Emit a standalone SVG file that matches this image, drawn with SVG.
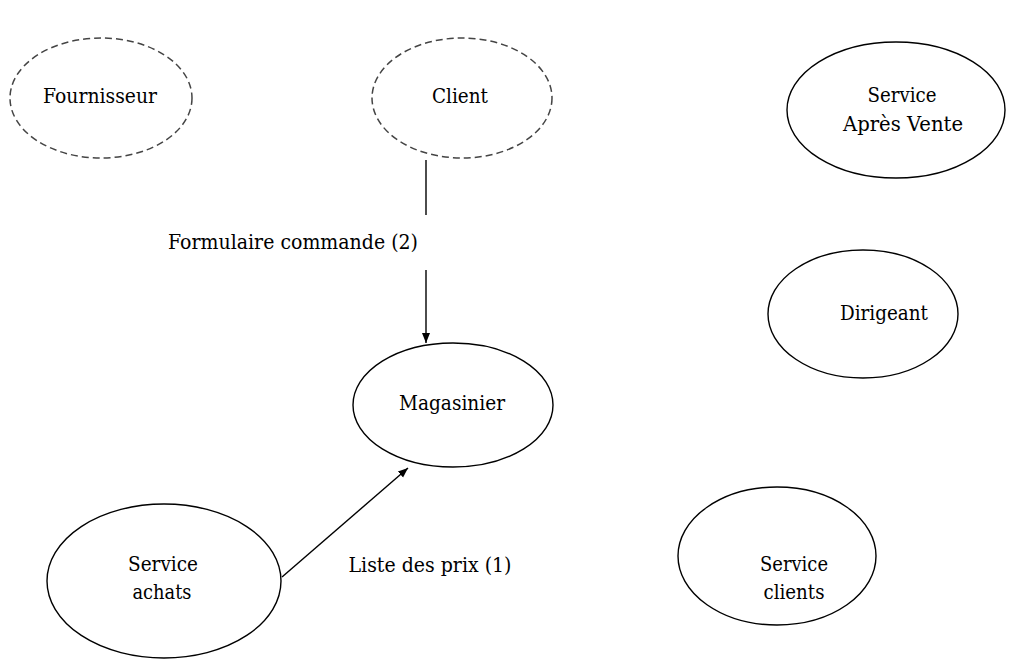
<svg xmlns="http://www.w3.org/2000/svg" width="1009" height="660" viewBox="0 0 1009 660">
<defs>
<style>
.n{fill:#fff;stroke:#000;stroke-width:1.4}
.d{fill:#fff;stroke:#444;stroke-width:1.5;stroke-dasharray:7 4}
text{font-family:"DejaVu Serif","Liberation Serif",serif;font-size:21px;fill:#000;text-anchor:middle}
.c{stroke:#000;stroke-width:1.4;fill:none}
</style>
<marker id="ah" markerWidth="10" markerHeight="10" refX="10" refY="5" orient="auto" markerUnits="userSpaceOnUse">
<path d="M0,1 L10,5 L0,9 Z" fill="#000"/>
</marker>
</defs>
<rect width="1009" height="660" fill="#fff"/>
<g id="fournisseur"><ellipse class="d" cx="101" cy="98" rx="91" ry="60"/><text x="100" y="103" textLength="114" lengthAdjust="spacingAndGlyphs">Fournisseur</text></g>
<g id="client"><ellipse class="d" cx="462" cy="98" rx="90" ry="60"/><text x="460" y="103" textLength="56" lengthAdjust="spacingAndGlyphs">Client</text></g>
<g id="sav"><ellipse class="n" cx="896" cy="110" rx="109" ry="68"/><text x="902" y="102" textLength="69" lengthAdjust="spacingAndGlyphs">Service</text><text x="903" y="131" textLength="120" lengthAdjust="spacingAndGlyphs">Après Vente</text></g>
<g id="dirigeant"><ellipse class="n" cx="863" cy="314" rx="95" ry="64"/><text x="884" y="320" textLength="88" lengthAdjust="spacingAndGlyphs">Dirigeant</text></g>
<g id="magasinier"><ellipse class="n" cx="453" cy="405" rx="100" ry="62"/><text x="452" y="410" textLength="106" lengthAdjust="spacingAndGlyphs">Magasinier</text></g>
<g id="achats"><ellipse class="n" cx="164" cy="581" rx="117" ry="77"/><text x="163" y="571" textLength="70" lengthAdjust="spacingAndGlyphs">Service</text><text x="162" y="599" textLength="59" lengthAdjust="spacingAndGlyphs">achats</text></g>
<g id="clients"><ellipse class="n" cx="777" cy="556" rx="99" ry="69"/><text x="794" y="571" textLength="68" lengthAdjust="spacingAndGlyphs">Service</text><text x="794" y="599" textLength="61" lengthAdjust="spacingAndGlyphs">clients</text></g>
<g id="connectors">
<line class="c" x1="426" y1="160" x2="426" y2="215"/>
<line class="c" x1="426" y1="270" x2="426" y2="343" marker-end="url(#ah)"/>
<text x="293" y="249" textLength="250" lengthAdjust="spacingAndGlyphs">Formulaire commande (2)</text>
<line class="c" x1="282" y1="577" x2="408" y2="468" marker-end="url(#ah)"/>
<text x="430" y="572" textLength="163" lengthAdjust="spacingAndGlyphs">Liste des prix (1)</text>
</g>
</svg>
